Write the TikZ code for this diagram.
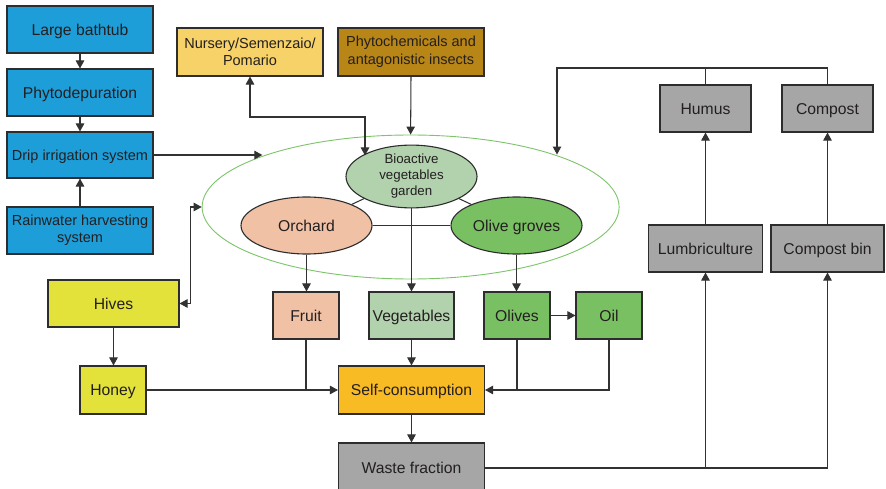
\documentclass[tikz,border=0pt]{standalone}
\usepackage{fontspec}
\setmainfont{Liberation Sans}
\usetikzlibrary{arrows.meta,shapes.geometric}

\definecolor{waterblue}{RGB}{29,158,217}
\definecolor{nurseryyellow}{RGB}{246,210,104}
\definecolor{phytobrown}{RGB}{184,134,22}
\definecolor{hiveyellow}{RGB}{226,226,58}
\definecolor{peach}{RGB}{240,193,164}
\definecolor{vegegreen}{RGB}{178,210,174}
\definecolor{olivegreen}{RGB}{121,192,99}
\definecolor{selforange}{RGB}{249,187,36}
\definecolor{wastegray}{RGB}{166,166,166}
\definecolor{ringgreen}{RGB}{125,196,106}
\definecolor{edge}{RGB}{45,45,45}
\definecolor{wire}{RGB}{50,50,50}
\definecolor{ink}{RGB}{35,31,32}

\begin{document}
\begin{tikzpicture}[x=1pt,y=-1pt,
  box/.style={draw=edge, line width=1.1pt, text=ink, inner sep=0pt, align=center,
              font=\fontsize{15.7}{18}\selectfont},
  single/.style={text height=11.2pt, text depth=0pt},
  smalltext/.style={font=\fontsize{14.5}{17.5}\selectfont},
  oval/.style={ellipse, draw=edge, line width=1.1pt, text=ink, inner sep=0pt, align=center,
              font=\fontsize{15.7}{18}\selectfont, minimum width=131, minimum height=57},
  conn/.style={draw=wire, line width=1.05pt},
  onearrow/.style={conn, -{Triangle[length=8pt,width=8.5pt]}},
  twoarrow/.style={conn, {Triangle[length=8pt,width=8.5pt]}-{Triangle[length=8pt,width=8.5pt]}}
]
\useasboundingbox (0,0) rectangle (886,489);
\fill[white] (0,0) rectangle (886,489);

% water chain
\node[box, single, fill=waterblue, minimum width=146, minimum height=47] (bath) at (80,29.5) {Large bathtub};
\node[box, single, fill=waterblue, minimum width=146, minimum height=47] (phyto) at (80,92.5) {Phytodepuration};
\node[box, smalltext, text height=10.4pt, text depth=0pt, fill=waterblue, minimum width=146, minimum height=46] (drip) at (80,155) {Drip irrigation system};
\node[box, smalltext, fill=waterblue, minimum width=146, minimum height=47] (rain) at (80,230.5) {Rainwater harvesting\\system};

% inputs on top
\node[box, smalltext, fill=nurseryyellow, minimum width=146, minimum height=48] (nursery) at (250,52) {Nursery/Semenzaio/\\Pomario};
\node[box, smalltext, fill=phytobrown, minimum width=146, minimum height=48] (phytochem) at (411,52) {Phytochemicals and\\antagonistic insects};

% garden system
\node[ellipse, draw=ringgreen, line width=0.9pt, inner sep=0pt, minimum width=417, minimum height=144] (ring) at (410.6,207) {};
\node[oval, fill=vegegreen, font=\fontsize{13.3}{16}\selectfont] (bio) at (411.5,176.5) {Bioactive\\vegetables\\garden};
\node[oval, single, fill=peach] (orchard) at (306.5,225.5) {Orchard};
\node[oval, single, fill=olivegreen] (groves) at (516.5,225.5) {Olive groves};

% hives
\node[box, single, fill=hiveyellow, minimum width=131, minimum height=47] (hives) at (113.5,303.5) {Hives};
\node[box, single, fill=hiveyellow, minimum width=66, minimum height=48] (honey) at (113,390) {Honey};

% products
\node[box, single, fill=peach, minimum width=66, minimum height=47] (fruit) at (306,315.5) {Fruit};
\node[box, single, fill=vegegreen, minimum width=85, minimum height=47] (veg) at (411.5,315.5) {Vegetables};
\node[box, single, fill=olivegreen, minimum width=66, minimum height=47] (olives) at (517,315.5) {Olives};
\node[box, single, fill=olivegreen, minimum width=66, minimum height=47] (oil) at (609,315.5) {Oil};
\node[box, single, fill=selforange, minimum width=146, minimum height=48] (selfc) at (411.5,390) {Self-consumption};
\node[box, fill=wastegray, minimum width=146, minimum height=50] (waste) at (411.5,468) {Waste fraction};

% recycling
\node[box, single, fill=wastegray, minimum width=91, minimum height=47] (humus) at (705.5,108.5) {Humus};
\node[box, single, fill=wastegray, minimum width=91, minimum height=47] (compost) at (827.5,108.5) {Compost};
\node[box, single, fill=wastegray, minimum width=114, minimum height=47] (lumbri) at (705.5,248.5) {Lumbriculture};
\node[box, single, fill=wastegray, minimum width=113, minimum height=47] (cbin) at (827.5,248.5) {Compost bin};

\coordinate (topbar) at (557,68);
\coordinate (nbend) at (365,117);

% water chain links
\draw[onearrow] (bath) -- (phyto);
\draw[onearrow] (phyto) -- (drip);
\draw[onearrow] (rain) -- (drip);
\draw[onearrow] (drip.east) -- (drip.east -| ring.161);

% top inputs
\draw[twoarrow] (nursery.south) |- (nbend) -- (nbend |- bio.157);
\draw[onearrow] (phytochem.south) -- (ring.north);

% hives exchange with the garden
\draw[twoarrow] (hives.east) -| ([xshift=-11pt]ring.west) -- (ring.west);

% inside the garden
\draw[conn] (bio) -- (orchard);
\draw[conn] (bio) -- (groves);
\draw[conn] (orchard) -- (groves);

% garden products
\draw[onearrow] (orchard.south) -- (orchard.south |- fruit.north);
\draw[onearrow] (bio.south) -- (veg.north);
\draw[onearrow] (groves.south) -- (groves.south |- olives.north);
\draw[onearrow] (olives) -- (oil);
\draw[onearrow] (hives) -- (hives.south |- honey.north);

% consumption
\draw[onearrow] (honey.east) -- (selfc.west);
\draw[conn] (fruit.south) -- (fruit.south |- selfc.west);
\draw[onearrow] (veg.south) -- (selfc.north);
\draw[onearrow] (oil.south) |- (selfc.east);
\draw[conn] (olives.south) -- (olives.south |- selfc.east);
\draw[onearrow] (selfc.south) -- (waste.north);

% waste recycling
\draw[onearrow] (waste.east) -| (cbin.south);
\draw[onearrow] (waste.east -| lumbri.south) -- (lumbri.south);
\draw[onearrow] (lumbri) -- (humus);
\draw[onearrow] (cbin) -- (compost);
\draw[conn] (humus.north) -- (humus.north |- topbar);
\draw[onearrow] (compost.north) |- (topbar) -- (topbar |- ring.20);
\end{tikzpicture}
\end{document}
